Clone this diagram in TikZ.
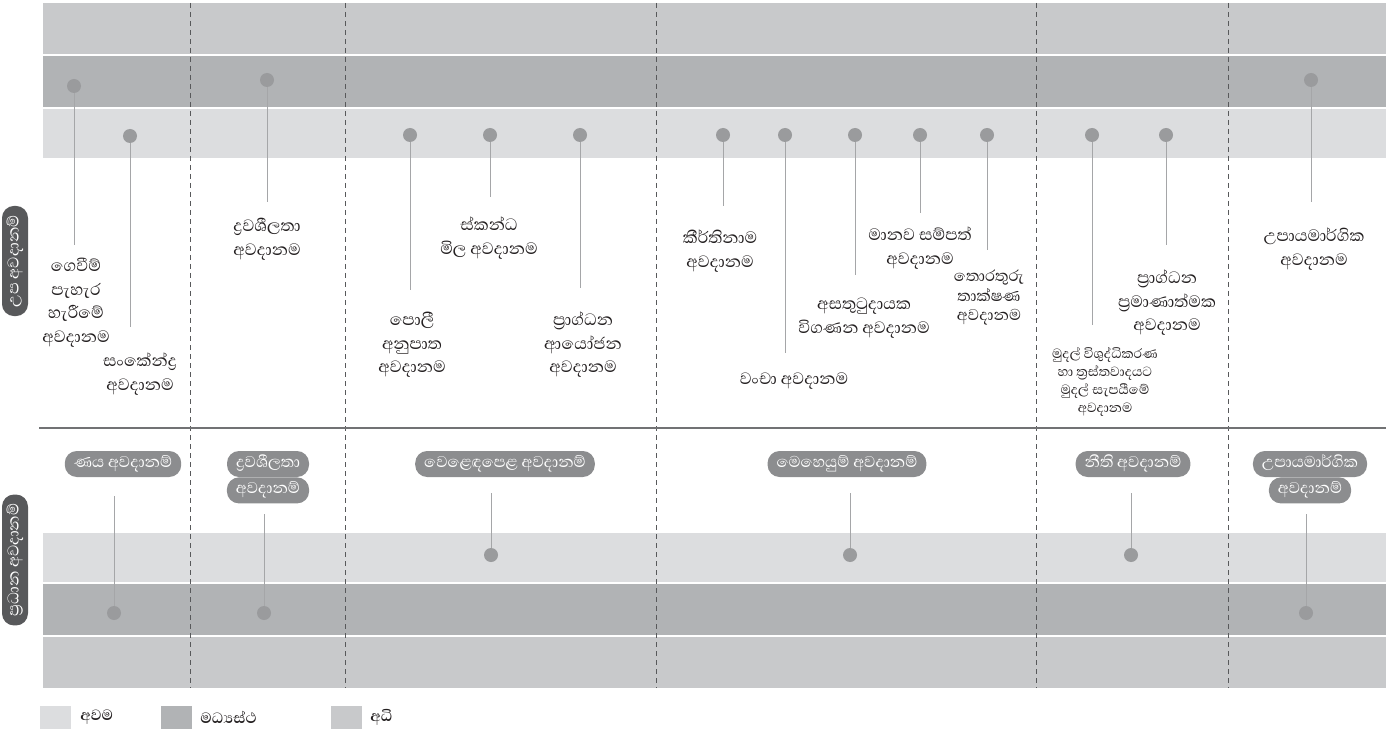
\documentclass[tikz,border=0pt]{standalone}
\usepackage{fontspec}
\newfontfamily\sinfont[Script=Sinhala]{Abhaya Libre}
\usetikzlibrary{positioning}

\definecolor{highband}{HTML}{C8C9CB}
\definecolor{midband}{HTML}{B1B3B5}
\definecolor{lowband}{HTML}{DCDDDF}
\definecolor{dotgray}{HTML}{9A9B9D}
\definecolor{stemgray}{HTML}{A5A6A8}
\definecolor{pillgray}{HTML}{8C8D8F}
\definecolor{sidegray}{HTML}{58595B}
\definecolor{divgray}{HTML}{58595B}
\definecolor{inkgray}{HTML}{231F20}

\begin{document}
\begin{tikzpicture}[
    x=1pt, y=-1pt,
    every node/.style={font=\sinfont\fontsize{21}{23.5}\selectfont, text=inkgray},
    divider/.style={divgray, line width=1pt, dash pattern=on 5pt off 4pt},
    dot/.style={circle, fill=dotgray, minimum size=14pt, inner sep=0pt},
    stem/.style={stemgray, line width=1pt},
    risk/.style={align=center, inner sep=0pt, anchor=north},
    smallrisk/.style={risk, font=\sinfont\fontsize{17}{18}\selectfont},
    pill/.style={fill=pillgray, text=white, rounded corners=12pt, minimum height=26pt, text height=11pt, text depth=4pt, inner xsep=9pt, inner ysep=0pt, font=\sinfont\fontsize{20}{22}\selectfont},
    side/.style={fill=sidegray, text=white, rounded corners=12pt, rotate=90, minimum height=26pt, text height=11pt, text depth=4pt, inner xsep=9pt, inner ysep=0pt, font=\sinfont\fontsize{20}{22}\selectfont},
    key/.style={minimum width=31pt, minimum height=23pt, inner sep=0pt},
    keytext/.style={inner sep=0pt, font=\sinfont\bfseries\fontsize{19}{20}\selectfont}
]
\useasboundingbox (0,0) rectangle (1394,743);

% ============ BANDS ============
\fill[highband] (43,3) rectangle (1386,54);
\fill[midband] (43,56) rectangle (1386,107);
\fill[lowband] (43,109) rectangle (1386,158);

\fill[lowband] (43,533) rectangle (1386,582);
\fill[midband] (43,584) rectangle (1386,635);
\fill[highband] (43,637) rectangle (1386,688);

% column dividers
\draw[divider] (190,3) -- (190,688);
\draw[divider] (345,3) -- (345,688);
\draw[divider] (656,3) -- (656,688);
\draw[divider] (1036,3) -- (1036,688);
\draw[divider] (1228,3) -- (1228,688);

% split between sub and main risks
\draw[divgray!85, line width=2pt] (39,428) -- (1386,428);

% ============ SIDE LABELS ============
\node[side] (sub) at (15,261) {උප අවදානම්};
\node[side] (main) at (15,560) {ප්^^^^200dරධාන අවදානම්};

% ============ SUB RISKS ============
\node[dot] (default) at (74,86) {};
\node[dot] (concent) at (130,136) {};
\node[dot] (liquid) at (267,80) {};
\node[dot] (interest) at (410,135) {};
\node[dot] (equity) at (490,135) {};
\node[dot] (capinv) at (580,135) {};
\node[dot] (reput) at (723,135) {};
\node[dot] (fraud) at (785,135) {};
\node[dot] (audit) at (855,135) {};
\node[dot] (hr) at (920,135) {};
\node[dot] (it) at (987,135) {};
\node[dot] (aml) at (1092,135) {};
\node[dot] (capad) at (1166,135) {};
\node[dot] (strat) at (1311,80) {};

\node[risk] (default_txt) at (76,258) {ගෙවීම්\\පැහැර\\හැරීමේ\\අවදානම};
\node[risk] (concent_txt) at (140,353) {සංකේන්ද්^^^^200dර\\අවදානම};
\node[risk] (liquid_txt) at (267,218) {ද්^^^^200dරවශීලතා\\අවදානම};
\node[risk] (interest_txt) at (412,312) {පොලී\\අනුපාත\\අවදානම};
\node[risk] (equity_txt) at (489,217) {ස්කන්ධ\\මිල අවදානම};
\node[risk] (capinv_txt) at (583,312) {ප්^^^^200dරාග්ධන\\ආයෝජන\\අවදානම};
\node[risk] (reput_txt) at (720,230) {කීර්තිනාම\\අවදානම};
\node[risk] (fraud_txt) at (794,373) {වංචා අවදානම};
\node[risk] (audit_txt) at (864,298) {අසතුටුදායක\\විගණන අවදානම};
\node[risk] (hr_txt) at (920,227) {මානව සම්පත්\\අවදානම};
\node[risk, font=\sinfont\fontsize{20}{19.5}\selectfont] (it_txt) at (989,270) {තොරතුරු\\තාක්ෂණ\\අවදානම};
\node[smallrisk] (aml_txt) at (1105,347) {මුදල් විශුද්ධිකරණ\\හා ත්^^^^200dරස්තවාදයට\\මුදල් සැපයීමේ\\අවදානම};
\node[risk] (capad_txt) at (1167,270) {ප්^^^^200dරාග්ධන\\ප්^^^^200dරමාණාත්මක\\අවදානම};
\node[risk] (strat_txt) at (1314,228) {උපායමාර්ගික\\අවදානම};

\draw[stem, shorten >=13pt] (default) -- (default |- default_txt.north);
\draw[stem, shorten >=26pt] (concent) -- (concent |- concent_txt.north);
\draw[stem, shorten >=16pt] (liquid) -- (liquid |- liquid_txt.north);
\draw[stem, shorten >=22pt] (interest) -- (interest |- interest_txt.north);
\draw[stem, shorten >=20pt] (equity) -- (equity |- equity_txt.north);
\draw[stem, shorten >=24pt] (capinv) -- (capinv |- capinv_txt.north);
\draw[stem, shorten >=24pt] (reput) -- (reput |- reput_txt.north);
\draw[stem, shorten >=20pt] (fraud) -- (fraud |- fraud_txt.north);
\draw[stem, shorten >=23pt] (audit) -- (audit |- audit_txt.north);
\draw[stem, shorten >=14pt] (hr) -- (hr |- hr_txt.north);
\draw[stem, shorten >=20pt] (it) -- (it |- it_txt.north);
\draw[stem, shorten >=22pt] (aml) -- (aml |- aml_txt.north);
\draw[stem, shorten >=25pt] (capad) -- (capad |- capad_txt.north);
\draw[stem, shorten >=26pt] (strat) -- (strat |- strat_txt.north);

% ============ MAIN RISKS ============
\node[pill] (credit) at (123,464) {ණය අවදානම්};
\node[pill] (liqmain) at (268,464) {ද්^^^^200dරවශීලතා};
\node[pill, below=0pt of liqmain] (liqmain2) {අවදානම්};
\node[pill] (market) at (505,464) {වෙළෙඳපෙළ අවදානම්};
\node[pill] (oper) at (847,464) {මෙහෙයුම් අවදානම්};
\node[pill] (legal) at (1133,464) {නීති අවදානම්};
\node[pill] (stratmain) at (1310,464) {උපායමාර්ගික};
\node[pill, below=0pt of stratmain] (stratmain2) {අවදානම්};

\node[dot] (credit_dot) at (114,613) {};
\node[dot] (liq_dot) at (264,613) {};
\node[dot] (market_dot) at (491,555) {};
\node[dot] (oper_dot) at (850,555) {};
\node[dot] (legal_dot) at (1131,555) {};
\node[dot] (strat_dot) at (1306,613) {};

\draw[stem, shorten >=19pt] (credit_dot) -- (credit_dot |- credit.south);
\draw[stem, shorten >=10pt] (liq_dot) -- (liq_dot |- liqmain2.south);
\draw[stem, shorten >=16pt] (market_dot) -- (market_dot |- market.south);
\draw[stem, shorten >=16pt] (oper_dot) -- (oper_dot |- oper.south);
\draw[stem, shorten >=16pt] (legal_dot) -- (legal_dot |- legal.south);
\draw[stem, shorten >=10pt] (strat_dot) -- (strat_dot |- stratmain2.south);

% ============ LEGEND ============
\node[key, fill=lowband] (low) at (55.5,717) {};
\node[keytext, right=9pt of low] (low_txt) {අවම};
\node[key, fill=midband] (mid) at (176.5,717) {};
\node[keytext, right=8pt of mid] (mid_txt) {මධ්^^^^200dයස්ථ};
\node[key, fill=highband] (high) at (346.5,717) {};
\node[keytext, right=8pt of high] (high_txt) {අධි};

\end{tikzpicture}
\end{document}
